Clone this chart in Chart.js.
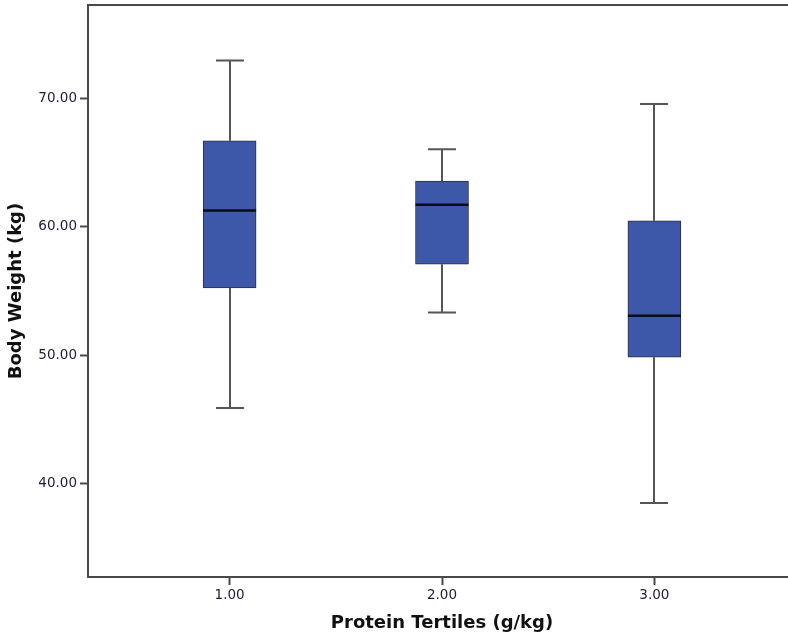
<!DOCTYPE html>
<html>
<head>
<meta charset="utf-8">
<script src="https://cdn.jsdelivr.net/npm/chart.js@4"></script>
<style>
  html, body { margin: 0; padding: 0; background: #fff; overflow: hidden; }
  #wrap { width: 788px; height: 640px; overflow: hidden; }
</style>
</head>
<body>
<div id="wrap"><canvas id="chart" width="800" height="640"></canvas></div>
<script>
const tertiles = [1, 2, 3];
const whiskerLow = [45.91, 53.32, 38.52];
const q1 = [55.23, 57.08, 49.85];
const medians = [61.25, 61.70, 53.08];
const q3 = [66.68, 63.55, 60.46];
const whiskerHigh = [72.92, 66.02, 69.53];
const yTicks = [40, 50, 60, 70];

const AXIS_COLOR = '#4a4a4a';
const TICK_COLOR = '#1c1c3c';

const boxParts = {
  id: 'boxParts',
  beforeDatasetsDraw(chart) {
    const { ctx, scales: { x, y } } = chart;
    ctx.save();
    ctx.strokeStyle = '#555';
    ctx.lineWidth = 2;
    tertiles.forEach((t, i) => {
      const cx = Math.round(x.getPixelForValue(t));
      const hi = y.getPixelForValue(whiskerHigh[i]);
      const lo = y.getPixelForValue(whiskerLow[i]);
      ctx.beginPath();
      ctx.moveTo(cx, hi);
      ctx.lineTo(cx, y.getPixelForValue(q3[i]));
      ctx.moveTo(cx, y.getPixelForValue(q1[i]));
      ctx.lineTo(cx, lo);
      ctx.moveTo(cx - 14, hi);
      ctx.lineTo(cx + 14, hi);
      ctx.moveTo(cx - 14, lo);
      ctx.lineTo(cx + 14, lo);
      ctx.stroke();
    });
    ctx.restore();
  },
  afterDatasetsDraw(chart) {
    const { ctx, scales: { x, y } } = chart;
    ctx.save();
    ctx.strokeStyle = '#0a0a1a';
    ctx.lineWidth = 2.5;
    tertiles.forEach((t, i) => {
      const cx = x.getPixelForValue(t);
      const my = y.getPixelForValue(medians[i]);
      ctx.beginPath();
      ctx.moveTo(cx - 26.5, my);
      ctx.lineTo(cx + 26.5, my);
      ctx.stroke();
    });
    // frame top of the plot area
    const a = chart.chartArea;
    ctx.strokeStyle = AXIS_COLOR;
    ctx.lineWidth = 2;
    ctx.beginPath();
    ctx.moveTo(a.left, a.top);
    ctx.lineTo(a.right, a.top);
    ctx.lineTo(a.right, a.bottom);
    ctx.stroke();
    ctx.restore();
  }
};

new Chart(document.getElementById('chart').getContext('2d'), {
  type: 'bar',
  data: {
    datasets: [{
      data: tertiles.map((t, i) => ({ x: t, y: [q1[i], q3[i]] })),
      backgroundColor: '#3d58a9',
      borderColor: '#2e2e3a',
      borderWidth: 1,
      borderSkipped: false,
      barThickness: 53,
    }],
  },
  options: {
    responsive: false,
    animation: false,
    events: [],
    layout: { padding: { top: 5, right: 4, left: 0, bottom: 0 } },
    plugins: { legend: { display: false }, tooltip: { enabled: false } },
    scales: {
      x: {
        type: 'linear',
        offset: false,
        min: 1 / 3,
        max: 11 / 3,
        afterBuildTicks: (s) => { s.ticks = tertiles.map((v) => ({ value: v })); },
        afterFit: (s) => { s.height = 63; s.paddingLeft = 0; s.paddingRight = 0; },
        ticks: {
          color: TICK_COLOR,
          font: { family: 'DejaVu Sans', size: 13.5 },
          padding: 2,
          callback: (v) => Number(v).toFixed(2),
        },
        grid: { offset: false, drawOnChartArea: false, tickLength: 8, tickColor: AXIS_COLOR, tickWidth: 2 },
        border: { color: AXIS_COLOR, width: 2 },
        title: {
          display: true,
          text: 'Protein Tertiles (g/kg)',
          color: '#111',
          font: { family: 'DejaVu Sans', size: 18, weight: 'bold' },
          padding: { top: 0, bottom: 6 },
        },
      },
      y: {
        min: 32.77,
        max: 77.23,
        afterBuildTicks: (s) => { s.ticks = yTicks.map((v) => ({ value: v })); },
        afterFit: (s) => { s.width = 88; s.paddingTop = 0; s.paddingBottom = 0; },
        ticks: {
          color: TICK_COLOR,
          font: { family: 'DejaVu Sans', size: 13.5 },
          padding: 3,
          callback: (v) => Number(v).toFixed(2),
        },
        grid: { drawOnChartArea: false, tickLength: 8, tickColor: AXIS_COLOR, tickWidth: 2 },
        border: { color: AXIS_COLOR, width: 2 },
        title: {
          display: true,
          text: 'Body Weight (kg)',
          color: '#111',
          font: { family: 'DejaVu Sans', size: 18, weight: 'bold' },
          padding: { top: 6, bottom: 0 },
        },
      },
    },
  },
  plugins: [boxParts],
});
</script>
</body>
</html>
